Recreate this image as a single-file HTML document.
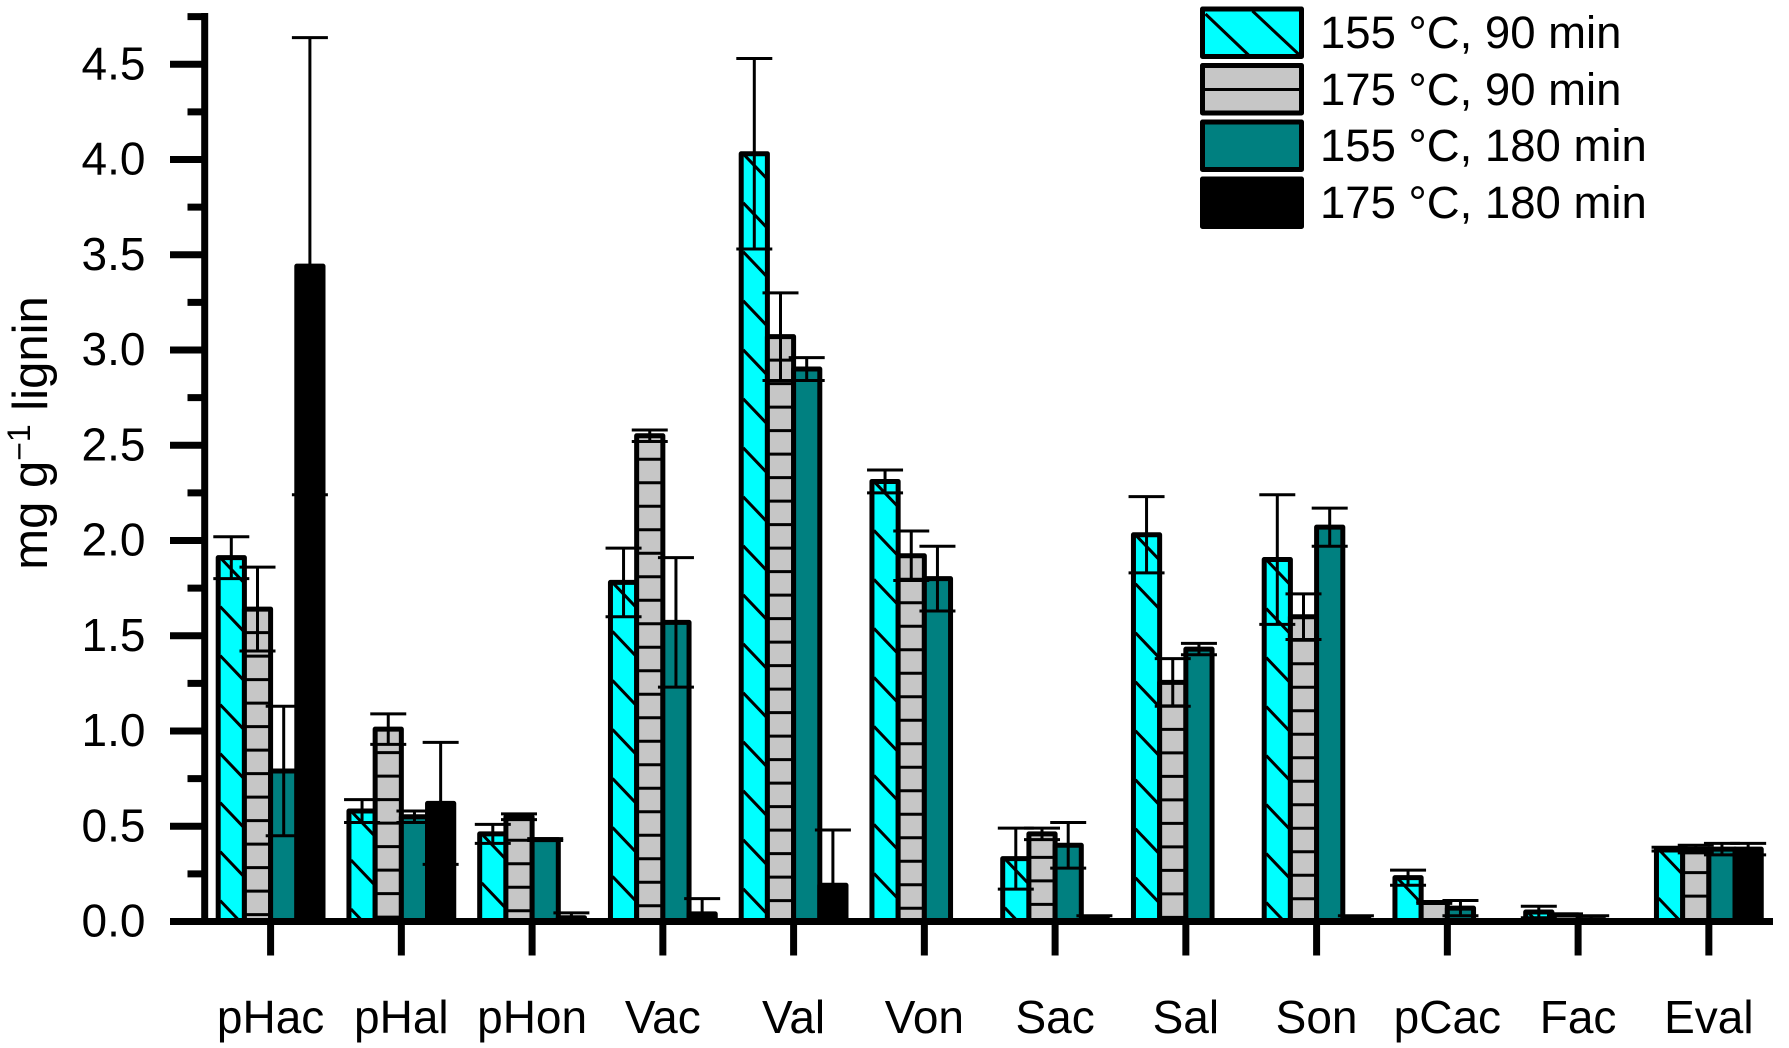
<!DOCTYPE html>
<html lang="en">
<head>
<meta charset="utf-8">
<title>Bar chart of phenolic compounds per gram of lignin</title>
<style>
html,body{margin:0;padding:0;background:#fff;}
svg{display:block;font-family:"Liberation Sans",Arial,sans-serif;}
text{fill:#000;}
</style>
</head>
<body>
<svg id="chart" width="1789" height="1048" viewBox="0 0 1789 1048" xmlns="http://www.w3.org/2000/svg">
  <rect width="1789" height="1048" fill="#fff"/>
  <g id="bars"></g>
  <g id="errors"></g>
  <g id="axes"></g>
  <text transform="translate(47,433) rotate(-90)" text-anchor="middle" font-size="49">mg g<tspan dy="-17" font-size="32">−1</tspan><tspan dy="17"> lignin</tspan></text>
  <g>
    <g>
      <rect x="1212" y="9" width="99" height="47.5" fill="#00ffff" stroke="#000" stroke-width="5" stroke-linejoin="round" transform="translate(-9.5,0)"/>
      <line x1="1205.5" y1="14" x2="1248.5" y2="55" stroke="#000" stroke-width="3"/>
      <line x1="1252.5" y1="11" x2="1299.5" y2="55" stroke="#000" stroke-width="3"/>
      <text x="1320" y="48" font-size="45.5">155 °C, 90 min</text>
    </g>
    <g>
      <rect x="1202.5" y="65.5" width="99" height="47.5" fill="#c6c6c6" stroke="#000" stroke-width="5" stroke-linejoin="round"/>
      <line x1="1203.5" y1="89.5" x2="1301.5" y2="89.5" stroke="#000" stroke-width="3"/>
      <text x="1320" y="105" font-size="45.5">175 °C, 90 min</text>
    </g>
    <g>
      <rect x="1202.5" y="122" width="99" height="47.5" fill="#008080" stroke="#000" stroke-width="5" stroke-linejoin="round"/>
      <text x="1320" y="161" font-size="45.5">155 °C, 180 min</text>
    </g>
    <g>
      <rect x="1202.5" y="179" width="99" height="47.5" fill="#000" stroke="#000" stroke-width="5" stroke-linejoin="round"/>
      <text x="1320" y="218" font-size="45.5">175 °C, 180 min</text>
    </g>
  </g>
</svg>
<script>
const categories = ["pHac","pHal","pHon","Vac","Val","Von","Sac","Sal","Son","pCac","Fac","Eval"];
const yMajorTicks = ["0.0","0.5","1.0","1.5","2.0","2.5","3.0","3.5","4.0","4.5"];
const yMinorTicks = [0.25,0.75,1.25,1.75,2.25,2.75,3.25,3.75,4.25,4.75];
const values155c90 = [1.91,0.58,0.46,1.78,4.03,2.31,0.33,2.03,1.90,0.23,0.05,0.38];
const errors155c90 = [0.11,0.06,0.05,0.18,0.50,0.06,0.16,0.20,0.34,0.04,0.03,0.01];
const values175c90 = [1.64,1.01,0.55,2.55,3.07,1.92,0.46,1.255,1.60,0.10,0.035,0.38];
const errors175c90 = [0.22,0.08,0.015,0.03,0.23,0.13,0.03,0.125,0.12,0.005,0.005,0.02];
const values155c180 = [0.79,0.55,0.43,1.57,2.90,1.80,0.40,1.43,2.07,0.07,0.01,0.38];
const errors155c180 = [0.34,0.03,0.005,0.34,0.06,0.17,0.12,0.03,0.10,0.04,0.02,0.03];
const values175c180 = [3.44,0.62,0.02,0.04,0.19,0,0.015,0,0.015,0,0,0.38];
const errors175c180 = [1.20,0.32,0.025,0.08,0.29,0,0.015,0,0.015,0,0,0.03];

const seriesValues = [values155c90, values175c90, values155c180, values175c180];
const seriesErrors = [errors155c90, errors175c90, errors155c180, errors175c180];
const seriesFills = ["#00ffff","#c6c6c6","#008080","#000000"];
const seriesKeys = ["155c-90min","175c-90min","155c-180min","175c-180min"];

const Y0 = 921.5, Y_UNIT = 190.5, X0 = 270.6, X_STEP = 130.75, BAR_STEP = 26.2;
function yScale(v){ return Y0 - v * Y_UNIT; }
function xTick(i){ return X0 + i * X_STEP; }
function xBar(i, s){ return xTick(i) + (s - 2) * BAR_STEP; }

const NS = "http://www.w3.org/2000/svg";
function make(tag, attrs, parent){
  const n = document.createElementNS(NS, tag);
  for (const k in attrs) n.setAttribute(k, attrs[k]);
  parent.appendChild(n);
  return n;
}

const barsLayer = document.getElementById("bars");
const errorsLayer = document.getElementById("errors");
const axesLayer = document.getElementById("axes");

seriesValues.forEach(function(vals, s){
  vals.forEach(function(v, i){
    if (v <= 0) return;
    const x = xBar(i, s), top = yScale(v), h = Y0 - top;
    const bar = make("rect", {x:x, y:top, width:BAR_STEP, height:h, fill:seriesFills[s], stroke:"#000", "stroke-width":5, "stroke-linejoin":"round"}, barsLayer);
    
    
    if (s === 0) {
      for (let yy = top; yy < Y0; yy += 49) {
        const w = Math.min(BAR_STEP - 2, (Y0 - yy) / 1.05);
        const hatch = make("line", {x1:x + 2, y1:yy, x2:x + 2 + w, y2:yy + w * 1.05, stroke:"#000", "stroke-width":3}, barsLayer);
        
        
      }
    }
    if (s === 1) {
      for (let yy = top + 23.5; yy < Y0 - 1; yy += 23.5) {
        const hatch = make("line", {x1:x, y1:yy, x2:x + BAR_STEP, y2:yy, stroke:"#000", "stroke-width":3}, barsLayer);
        
        
      }
    }
  });
});

seriesValues.forEach(function(vals, s){
  vals.forEach(function(v, i){
    const e = seriesErrors[s][i];
    if (e <= 0) return;
    const cx = xBar(i, s) + BAR_STEP / 2;
    const hi = yScale(v + e), lo = yScale(Math.max(v - e, 0));
    const stem = make("line", {x1:cx, y1:hi, x2:cx, y2:lo, stroke:"#000", "stroke-width":3}, errorsLayer);
    
    
    const capHi = make("line", {x1:cx - 18, y1:hi, x2:cx + 18, y2:hi, stroke:"#000", "stroke-width":3}, errorsLayer);
    
    
    const capLo = make("line", {x1:cx - 18, y1:lo, x2:cx + 18, y2:lo, stroke:"#000", "stroke-width":3}, errorsLayer);
    
    
  });
});

const yAxisLine = make("line", {x1:204.7, y1:13, x2:204.7, y2:Y0 + 3.5, stroke:"#000", "stroke-width":7}, axesLayer);


const xAxisLine = make("line", {x1:170, y1:Y0, x2:1773, y2:Y0, stroke:"#000", "stroke-width":7}, axesLayer);



yMajorTicks.forEach(function(label){
  const v = parseFloat(label), y = yScale(v);
  const tick = make("line", {x1:170, y1:y, x2:204, y2:y, stroke:"#000", "stroke-width":7}, axesLayer);
  
  
  const t = make("text", {x:145.5, y:y + 15, "text-anchor":"end", "font-size":46}, axesLayer);
  t.textContent = label;
  
  
});
yMinorTicks.forEach(function(v){
  const y = yScale(v);
  const tick = make("line", {x1:187.5, y1:y, x2:204, y2:y, stroke:"#000", "stroke-width":7}, axesLayer);
  
  
});
categories.forEach(function(label, i){
  const x = xTick(i);
  const tick = make("line", {x1:x, y1:Y0, x2:x, y2:Y0 + 34, stroke:"#000", "stroke-width":7}, axesLayer);
  
  
  const t = make("text", {x:x, y:1033, "text-anchor":"middle", "font-size":46}, axesLayer);
  t.textContent = label;
  
  
});
</script>
</body>
</html>
